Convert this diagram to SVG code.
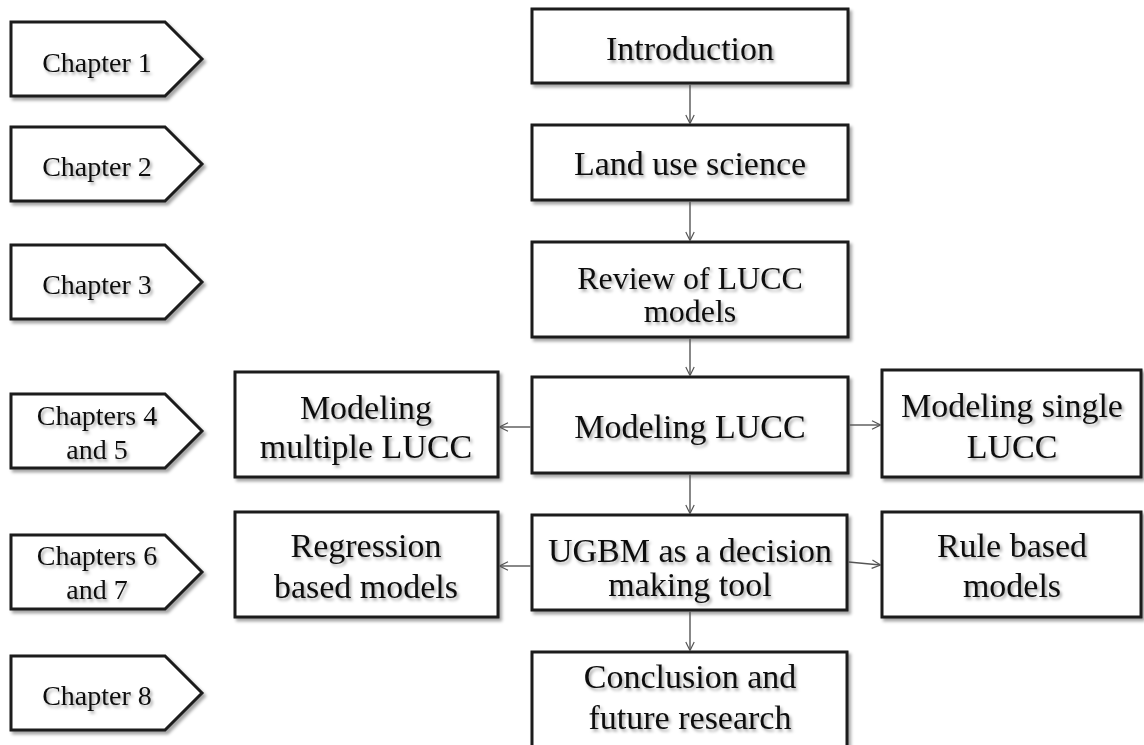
<svg xmlns="http://www.w3.org/2000/svg" width="1144" height="745" viewBox="0 0 1144 745">
  <defs>
    <filter id="boxShadow" x="-10%" y="-10%" width="125%" height="130%">
      <feDropShadow dx="2.5" dy="3" stdDeviation="1.8" flood-color="#000" flood-opacity="0.35"/>
    </filter>
    <filter id="textShadow" x="-5%" y="-20%" width="115%" height="150%">
      <feDropShadow dx="2" dy="2.5" stdDeviation="1.4" flood-color="#000" flood-opacity="0.35"/>
    </filter>
    <marker id="arrow" viewBox="0 0 10 10" refX="9.5" refY="5" markerWidth="10" markerHeight="10" markerUnits="userSpaceOnUse" orient="auto">
      <path d="M1,0.8 L9.5,5 L1,9.2" fill="none" stroke="#555" stroke-width="1.2"/>
    </marker>
    <style>
      .box { fill: #fff; stroke: #1c1c1c; stroke-width: 3; filter: url(#boxShadow); }
      .tag { fill: #fff; stroke: #1c1c1c; stroke-width: 3; stroke-linejoin: miter; filter: url(#boxShadow); }
      .lbl { font-family: "Liberation Serif", "Times New Roman", serif; font-size: 34px; fill: #111; text-anchor: middle; filter: url(#textShadow); }
      .sm { font-size: 32px; }
      .chap { font-family: "Liberation Serif", "Times New Roman", serif; font-size: 28px; fill: #111; text-anchor: middle; filter: url(#textShadow); }
      .conn { fill: none; stroke: #555; stroke-width: 1.4; marker-end: url(#arrow); }
    </style>
  </defs>

  <rect width="1144" height="745" fill="#fff"/>

  <!-- chapter tags -->
  <g id="chapter1">
    <polygon class="tag" points="11,22 165,22 202,59 165,96 11,96"/>
    <text class="chap" x="97" y="72">Chapter 1</text>
  </g>
  <g id="chapter2">
    <polygon class="tag" points="11,127 165,127 202,164 165,201 11,201"/>
    <text class="chap" x="97" y="176">Chapter 2</text>
  </g>
  <g id="chapter3">
    <polygon class="tag" points="11,245 165,245 202,282 165,319 11,319"/>
    <text class="chap" x="97" y="294">Chapter 3</text>
  </g>
  <g id="chapters4and5">
    <polygon class="tag" points="11,394 165,394 202,431 165,468 11,468"/>
    <text class="chap" x="97" y="425">Chapters 4</text>
    <text class="chap" x="97" y="459">and 5</text>
  </g>
  <g id="chapters6and7">
    <polygon class="tag" points="11,535 165,535 202,572 165,609 11,609"/>
    <text class="chap" x="97" y="565">Chapters 6</text>
    <text class="chap" x="97" y="599">and 7</text>
  </g>
  <g id="chapter8">
    <polygon class="tag" points="11,656 165,656 202,693 165,730 11,730"/>
    <text class="chap" x="97" y="705">Chapter 8</text>
  </g>

  <!-- main column -->
  <g id="introduction">
    <rect class="box" x="532" y="9" width="316" height="74"/>
    <text class="lbl" x="690" y="60">Introduction</text>
  </g>
  <g id="landUseScience">
    <rect class="box" x="532" y="125" width="316" height="75"/>
    <text class="lbl" x="690" y="175">Land use science</text>
  </g>
  <g id="reviewModels">
    <rect class="box" x="532" y="242" width="316" height="95"/>
    <text class="lbl sm" x="690" y="289">Review of LUCC</text>
    <text class="lbl sm" x="690" y="322">models</text>
  </g>
  <g id="modelingLucc">
    <rect class="box" x="532" y="377" width="316" height="96"/>
    <text class="lbl" x="690" y="438">Modeling LUCC</text>
  </g>
  <g id="ugbmTool">
    <rect class="box" x="532" y="515" width="315" height="95"/>
    <text class="lbl" x="690" y="562">UGBM as a decision</text>
    <text class="lbl" x="690" y="596">making tool</text>
  </g>
  <g id="conclusion">
    <rect class="box" x="532" y="652" width="315" height="100"/>
    <text class="lbl" x="690" y="688">Conclusion and</text>
    <text class="lbl" x="690" y="729">future research</text>
  </g>

  <!-- side branches -->
  <g id="multipleLucc">
    <rect class="box" x="235" y="372" width="263" height="105"/>
    <text class="lbl" x="366" y="419">Modeling</text>
    <text class="lbl" x="366" y="458">multiple LUCC</text>
  </g>
  <g id="singleLucc">
    <rect class="box" x="882" y="370" width="259" height="107"/>
    <text class="lbl" x="1012" y="417">Modeling single</text>
    <text class="lbl" x="1012" y="458">LUCC</text>
  </g>
  <g id="regressionModels">
    <rect class="box" x="235" y="512" width="263" height="105"/>
    <text class="lbl" x="366" y="557">Regression</text>
    <text class="lbl" x="366" y="598">based models</text>
  </g>
  <g id="ruleModels">
    <rect class="box" x="882" y="512" width="259" height="105"/>
    <text class="lbl" x="1012" y="557">Rule based</text>
    <text class="lbl" x="1012" y="597">models</text>
  </g>

  <!-- connectors -->
  <g id="connectors">
    <line class="conn" x1="690" y1="84.5" x2="690" y2="123.5"/>
    <line class="conn" x1="690" y1="201.5" x2="690" y2="240.5"/>
    <line class="conn" x1="690" y1="338.5" x2="690" y2="375.5"/>
    <line class="conn" x1="690" y1="474.5" x2="690" y2="513.5"/>
    <line class="conn" x1="690" y1="611.5" x2="690" y2="650.5"/>
    <line class="conn" x1="530.5" y1="427" x2="499.5" y2="427"/>
    <line class="conn" x1="849.5" y1="425" x2="880.5" y2="425"/>
    <line class="conn" x1="530.5" y1="566" x2="499.5" y2="566"/>
    <line class="conn" x1="848.5" y1="562" x2="880.5" y2="565"/>
  </g>
</svg>
